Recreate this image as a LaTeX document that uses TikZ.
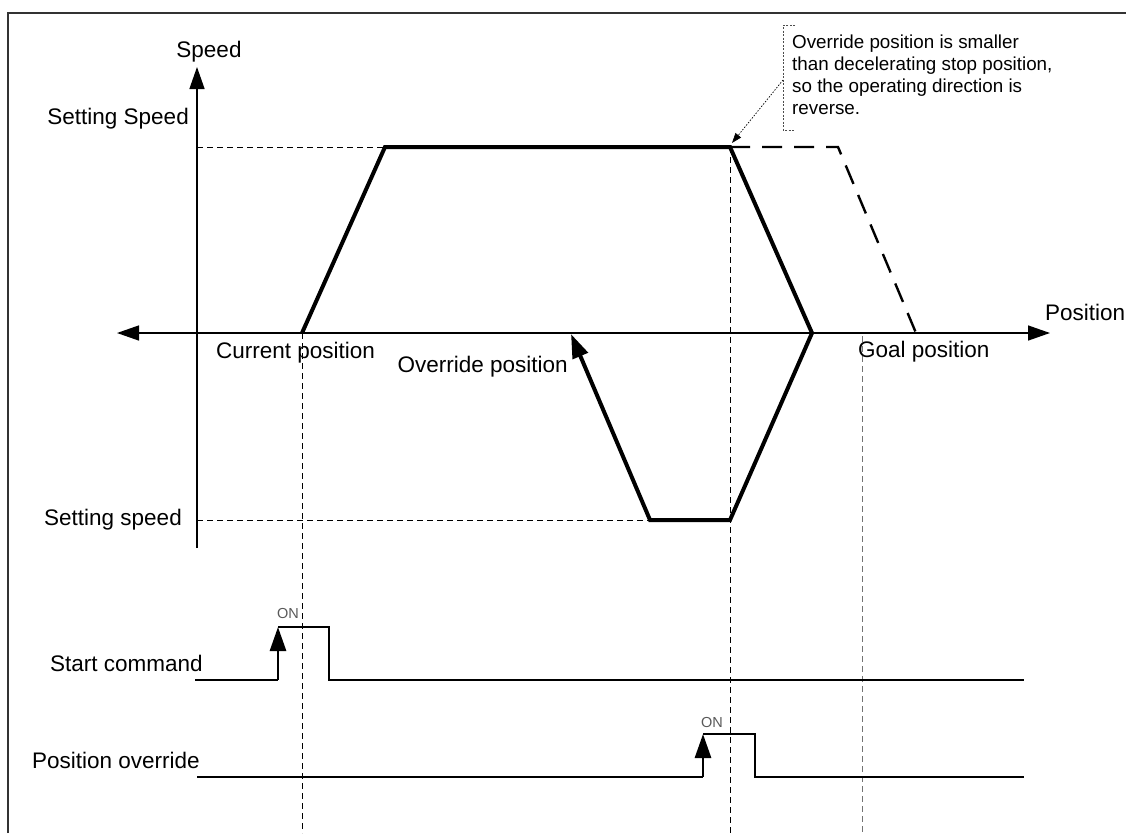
\documentclass[tikz,border=0pt]{standalone}
\usepackage{fontspec}
\setmainfont{Liberation Sans}
\usetikzlibrary{arrows.meta}
\begin{document}
\begin{tikzpicture}[x=1pt,y=-1pt,
  lbl/.style={font=\fontsize{22.5}{26}\selectfont, inner sep=0pt},
  anno/.style={font=\fontsize{18.8}{22}\selectfont, inner sep=0pt, align=left},
  onlbl/.style={font=\fontsize{14.5}{16}\selectfont, inner sep=0pt, text=black!65},
  axis/.style={line width=1.4pt},
  prof/.style={line width=4pt, line join=miter},
  plan/.style={line width=2.4pt, dash pattern=on 20pt off 12pt},
  guide/.style={line width=0.9pt, dash pattern=on 6pt off 4pt},
  sig/.style={line width=1.2pt},
  bigtip/.style={-{Triangle[length=22pt,width=15pt]}},
  edgetip/.style={-{Triangle[length=24pt,width=16pt]}}]
\useasboundingbox (0,0) rectangle (1126,833);
% frame
\coordinate (f0) at (8,833); \coordinate (f1) at (8,13); \coordinate (f2) at (1126,13);
\draw[line width=1.2pt, black!80] (f0) -- (f1) -- (f2);
% axes
\coordinate (sb) at (197,548); \coordinate (st) at (197,67);
\draw[axis,bigtip] (sb) -- (st);
\coordinate (pl) at (117,333); \coordinate (pr) at (1050,333);
\draw[axis,{Triangle[length=22pt,width=15pt]}-{Triangle[length=22pt,width=15pt]}] (pl) -- (pr);
% profile points
\coordinate (c0) at (302,333); \coordinate (c1) at (385,147); \coordinate (c2) at (730,147);
\coordinate (c3) at (812,333); \coordinate (c4) at (730,520); \coordinate (c5) at (650,520);
\coordinate (c6) at (571,334);
\coordinate (d1) at (838,147); \coordinate (d2) at (916,333);
% guides
\coordinate (g1) at (197,147); \coordinate (g2) at (197,520);
\draw[guide] (g1) -- (c1);
\draw[guide] (g2) -- (c5);
\coordinate (v0) at (302,833); \coordinate (v1) at (730,833);
\coordinate (v2t) at (862,336); \coordinate (v2b) at (862,833);
\draw[guide] (c0) -- (v0);
\draw[guide] (c2) -- (v1);
\draw[guide, black!55] (v2t) -- (v2b);
% profile
\draw[plan] (c2) -- (d1) -- (d2);
\draw[prof,edgetip] (c0) -- (c1) -- (c2) -- (c3) -- (c4) -- (c5) -- (c6);
% labels
\node[lbl] (speed) at (209,52) {Speed};
\node[lbl, anchor=west] (posl) at (1045,312) {Position};
\node[lbl, anchor=east] (ssp1) at (189,119) {Setting Speed};
\node[lbl, anchor=east] (ssp2) at (182,520) {Setting speed};
\node[lbl, anchor=west] (cur) at (216,353) {Current position};
\node[lbl, anchor=east] (ovr) at (568,367) {Override position};
\node[lbl, anchor=west] (goal) at (858,352) {Goal position};
\node[lbl, anchor=west] (stc) at (50,663) {Start command};
\node[lbl, anchor=west] (poc) at (32,760) {Position override};
% annotation
\node[anno, anchor=north west] (note) at (792,35) {Override position is smaller\\than decelerating stop position,\\so the operating direction is\\reverse.};
\coordinate (b0) at (795,25); \coordinate (b1) at (783,25); \coordinate (b2) at (783,130); \coordinate (b3) at (794,130);
\draw[line width=0.7pt, dash pattern=on 2pt off 1.5pt, black!70] (b0) -- (b1) -- (b2) -- (b3);
\coordinate (n0) at (783,80); \coordinate (n1) at (732,143);
\draw[line width=0.7pt, dash pattern=on 1.5pt off 1.5pt, -{Triangle[length=10pt,width=7pt]}] (n0) -- (n1);
% start command signal
\coordinate (s0) at (195,680); \coordinate (s1) at (278,680); \coordinate (s2) at (278,627);
\coordinate (s3) at (329,627); \coordinate (s4) at (329,680); \coordinate (s5) at (1024,680);
\draw[sig] (s0) -- (s1);
\draw[sig] (s2) -- (s3) -- (s4) -- (s5);
\draw[line width=2.8pt, edgetip] (s1) -- (s2);
\node[onlbl] (on1) at (288,613) {ON};
% position override signal
\coordinate (o0) at (197,777); \coordinate (o1) at (703,777); \coordinate (o2) at (703,734);
\coordinate (o3) at (755,734); \coordinate (o4) at (755,777); \coordinate (o5) at (1024,777);
\draw[sig] (o0) -- (o1);
\draw[sig] (o2) -- (o3) -- (o4) -- (o5);
\draw[line width=2.8pt, edgetip] (o1) -- (o2);
\node[onlbl] (on2) at (712,722) {ON};
\end{tikzpicture}
\end{document}
